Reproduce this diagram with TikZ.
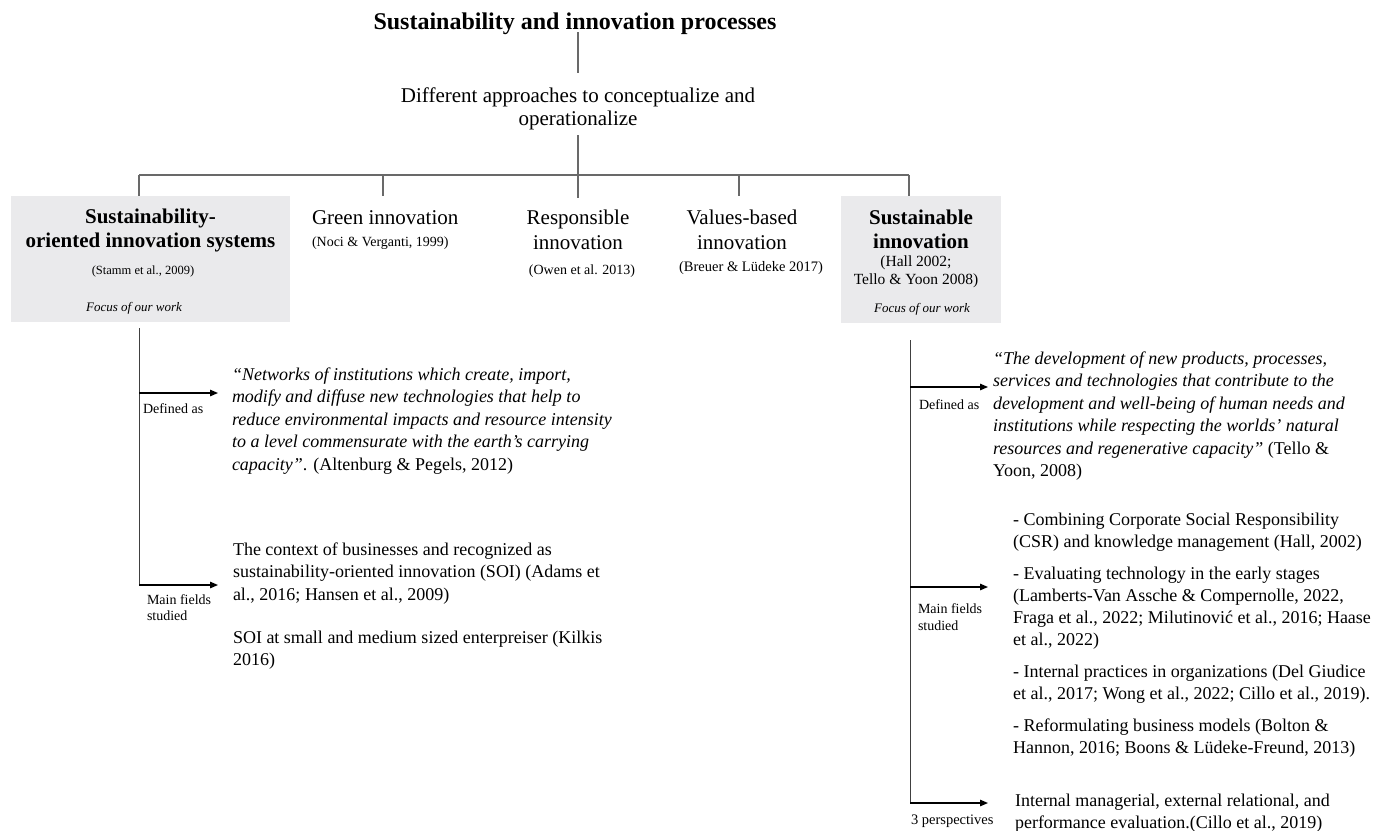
\documentclass[tikz,border=0pt]{standalone}
\usepackage{fontspec}
\setmainfont{Liberation Serif}
\usetikzlibrary{arrows.meta}
\definecolor{boxgrey}{RGB}{234,234,236}
\definecolor{linegrey}{RGB}{105,105,105}
\newcommand\fsz[2]{\fontsize{#1}{#2}\selectfont}
\begin{document}
\begin{tikzpicture}[x=1pt,y=-1pt,
  conn/.style={draw=linegrey,line width=1.1pt},
  vline/.style={draw=black!75,line width=1pt},
  arr/.style={draw=black,line width=1.3pt,-{Triangle[length=8pt,width=6.5pt]}},
  greybox/.style={fill=boxgrey,draw=none,inner sep=0,anchor=north west},
  txt/.style={inner sep=0,outer sep=0},
  ]
\useasboundingbox (0,0) rectangle (1375,830);

% title and subtitle
\node[txt,anchor=base,font=\fsz{24}{28}\bfseries] (title) at (575,29) {Sustainability and innovation processes};
\node[txt,anchor=north,align=center,font=\fsz{21}{23}] (diff) at (578,88) {Different approaches to conceptualize and\\operationalize};

\coordinate (t1) at (578,32);
\coordinate (t2) at (578,73);
\coordinate (d1) at (578,135);
\coordinate (bus) at (578,175);
\coordinate (busL) at (139,175);
\coordinate (busR) at (909,175);
\draw[conn] (t1) -- (t2);
\draw[conn] (d1) -- (bus);
\draw[conn] (busL) -- (busR);

% boxes
\node[greybox,minimum width=279pt,minimum height=126pt] (soi) at (11,196) {};
\node[greybox,minimum width=160pt,minimum height=127pt] (sust) at (841,196) {};

% top-row labels
\node[txt,anchor=north,align=center,font=\fsz{21}{24}\bfseries] (soih) at (150.5,208.5) {Sustainability-\\oriented innovation systems};
\node[txt,anchor=base,font=\fsz{12.5}{15}] (soic) at (143,274) {(Stamm et al., 2009)};
\node[txt,anchor=base,font=\fsz{13}{15}\itshape] (soif) at (134,311) {Focus of our work};

\node[txt,anchor=base west,font=\fsz{21}{24}] (green) at (312,224) {Green innovation};
\node[txt,anchor=base west,font=\fsz{14}{16}] (greenc) at (312,246) {(Noci \& Verganti, 1999)};

\node[txt,anchor=north,align=center,font=\fsz{21}{25}] (resp) at (578,209.5) {Responsible\\innovation};
\node[txt,anchor=base,font=\fsz{14}{16}] (respc) at (582,274) {(Owen et al. 2013)};

\node[txt,anchor=north,align=center,font=\fsz{21}{25}] (vals) at (742,209.5) {Values-based\\innovation};
\node[txt,anchor=base,font=\fsz{14.5}{16}] (valsc) at (751,271) {(Breuer \& Lüdeke 2017)};

\node[txt,anchor=north,align=center,font=\fsz{21}{24}\bfseries] (susth) at (921,209.5) {Sustainable\\innovation};
\node[txt,anchor=north,align=center,font=\fsz{15.5}{18}] (sustc) at (916,256) {(Hall 2002;\\Tello \& Yoon 2008)};
\node[txt,anchor=base,font=\fsz{13}{15}\itshape] (sustf) at (922,312) {Focus of our work};

\draw[conn] (busL) -- (busL |- soi.north);
\draw[conn] (383,175) -- (383,196);
\draw[conn] (bus) -- (578,198);
\draw[conn] (739,175) -- (739,196);
\draw[conn] (busR) -- (busR |- sust.north);

% left branch
\coordinate (lv1) at (139,328);
\coordinate (lv2) at (139,585);
\coordinate (lv3) at (139,393);
\node[txt,anchor=north west,align=left,font=\fsz{18}{22.5}\itshape] (quoteL) at (232,367.6) {“Networks of institutions which create, import,\\modify and diffuse new technologies that help to\\reduce environmental impacts and resource intensity\\to a level commensurate with the earth’s carrying\\capacity”\textup{. (Altenburg \& Pegels, 2012)}};
\node[txt,anchor=north west,align=left,font=\fsz{18}{22.5}] (listL) at (233,542.6) {The context of businesses and recognized as\\sustainability-oriented innovation (SOI) (Adams et\\al., 2016; Hansen et al., 2009)\\[20.5pt]SOI at small and medium sized enterpreiser (Kilkis\\2016)};
\node[txt,anchor=base west,font=\fsz{14}{16}] (defL) at (143,413) {Defined as};
\node[txt,anchor=north west,align=left,font=\fsz{14}{16}] (mainL) at (147,595) {Main fields\\studied};
\draw[vline] (lv1) -- (lv2);
\draw[arr] (lv3) -- (lv3 -| 218,0);
\draw[arr] (lv2) -- (lv2 -| 218,0);

% right branch
\coordinate (rv1) at (910,340);
\coordinate (rv2) at (910,803);
\coordinate (rv3) at (910,387);
\coordinate (rv4) at (910,587);
\node[txt,anchor=north west,align=left,font=\fsz{18}{22.5}\itshape] (quoteR) at (993,351.6) {“The development of new products, processes,\\services and technologies that contribute to the\\development and well-being of human needs and\\institutions while respecting the worlds’ natural\\resources and regenerative capacity” \textup{(Tello \&}\\\textup{Yoon, 2008)}};
\node[txt,anchor=north west,align=left,font=\fsz{18}{22}] (listR) at (1013,512.6) {- Combining Corporate Social Responsibility\\(CSR) and knowledge management (Hall, 2002)\\[10pt]- Evaluating technology in the early stages\\(Lamberts-Van Assche \& Compernolle, 2022,\\Fraga et al., 2022; Milutinović et al., 2016; Haase\\et al., 2022)\\[10pt]- Internal practices in organizations (Del Giudice\\et al., 2017; Wong et al., 2022; Cillo et al., 2019).\\[10pt]- Reformulating business models (Bolton \&\\Hannon, 2016; Boons \& Lüdeke-Freund, 2013)};
\node[txt,anchor=north west,align=left,font=\fsz{18}{22}] (finalR) at (1015,793.6) {Internal managerial, external relational, and\\performance evaluation.(Cillo et al., 2019)};
\node[txt,anchor=base west,font=\fsz{14}{16}] (defR) at (919,409) {Defined as};
\node[txt,anchor=north west,align=left,font=\fsz{14}{17}] (mainR) at (918,604) {Main fields\\studied};
\node[txt,anchor=base west,font=\fsz{14.5}{16}] (perspR) at (911,824) {3 perspectives};
\draw[vline] (rv1) -- (rv2);
\draw[arr] (rv3) -- (rv3 -| 988,0);
\draw[arr] (rv4) -- (rv4 -| 988,0);
\draw[arr] (rv2) -- (rv2 -| 988,0);
\end{tikzpicture}
\end{document}
